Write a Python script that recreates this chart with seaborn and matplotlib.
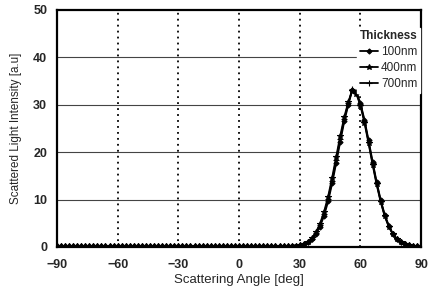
import pandas as pd
import matplotlib
matplotlib.use('Agg')
import matplotlib.pyplot as plt
import seaborn as sns

# scattering angle grid [deg], every 2 degrees
angles = list(range(-90, 92, 2))

# scattered light intensity [a.u]
# flat part from -90 to 26 deg
baseline = [
    0.2, 0.2, 0.2, 0.2, 0.2, 0.2, 0.2, 0.2, 0.2, 0.2,
    0.2, 0.2, 0.2, 0.2, 0.2, 0.2, 0.2, 0.2, 0.2, 0.2,
    0.2, 0.2, 0.2, 0.2, 0.2, 0.2, 0.2, 0.2, 0.2, 0.2,
    0.2, 0.2, 0.2, 0.2, 0.2, 0.2, 0.2, 0.2, 0.2, 0.2,
    0.2, 0.2, 0.2, 0.2, 0.2, 0.2, 0.2, 0.2, 0.2, 0.2,
    0.2, 0.2, 0.2, 0.2, 0.2, 0.2, 0.2, 0.2, 0.25,
]
# peak part from 28 to 90 deg
peak_100nm = [
    0.3, 0.35, 0.55, 0.95, 1.6, 2.7, 4.3, 6.6, 9.6, 13.4,
    17.7, 22.2, 26.5, 30.0, 33.2, 32.6, 30.3, 26.8, 22.5, 18.0,
    13.7, 9.9, 6.8, 4.5, 2.8, 1.7, 1.0, 0.6, 0.35, 0.25,
    0.2, 0.2,
]
peak_400nm = [
    0.3, 0.4, 0.65, 1.1, 1.9, 3.1, 4.9, 7.4, 10.6, 14.6,
    19.0, 23.4, 27.4, 30.6, 33.0, 32.3, 29.8, 26.2, 21.9, 17.4,
    13.2, 9.5, 6.5, 4.3, 2.7, 1.6, 0.95, 0.55, 0.35, 0.25,
    0.2, 0.2,
]
peak_700nm = [
    0.3, 0.38, 0.6, 1.0, 1.75, 2.9, 4.6, 7.0, 10.1, 14.0,
    18.4, 22.8, 27.0, 30.3, 33.4, 32.5, 30.1, 26.5, 22.2, 17.7,
    13.4, 9.7, 6.6, 4.4, 2.75, 1.65, 1.0, 0.58, 0.35, 0.25,
    0.2, 0.2,
]

thickness_labels = ['100nm', '400nm', '700nm']
series = [baseline + peak_100nm, baseline + peak_400nm, baseline + peak_700nm]
markers = {'100nm': 'D', '400nm': '*', '700nm': '+'}
msizes = {'100nm': 2.6, '400nm': 3.8, '700nm': 4.0}

df = pd.concat(
    [pd.DataFrame({'angle': angles, 'intensity': vals, 'Thickness': lab})
     for lab, vals in zip(thickness_labels, series)],
    ignore_index=True,
)

sns.set_style('white')
plt.rcParams['font.family'] = ['Liberation Sans', 'DejaVu Sans']

fig = plt.figure(figsize=(4.28, 2.93), dpi=100)
ax = fig.add_axes([0.133, 0.157, 0.851, 0.809])

for lab in thickness_labels:
    sub = df[df['Thickness'] == lab]
    sns.lineplot(data=sub, x='angle', y='intensity', ax=ax, color='black',
                 linewidth=1.3, marker=markers[lab], markersize=msizes[lab],
                 markeredgewidth=0.8, markeredgecolor='black',
                 markerfacecolor='black', label=lab)

# grid: solid horizontal, dotted vertical
for yv in [10, 20, 30, 40]:
    ax.axhline(yv, color='#444444', linewidth=0.8, zorder=0)
for xv in [-60, -30, 0, 30, 60]:
    ax.axvline(xv, color='black', linewidth=1.3, linestyle=(0, (1, 2.3)), zorder=0)

ax.set_xlim(-90, 90)
ax.set_ylim(0, 50)
ax.set_xticks([-90, -60, -30, 0, 30, 60, 90])
ax.set_yticks([0, 10, 20, 30, 40, 50])
ax.tick_params(length=0, labelsize=9)
ax.tick_params(axis='x', pad=9)
ax.tick_params(axis='y', pad=7)
for t in ax.get_xticklabels() + ax.get_yticklabels():
    t.set_fontweight('bold')
for s in ax.spines.values():
    s.set_color('black')
    s.set_linewidth(1.6)

ax.set_xlabel('Scattering Angle [deg]', fontsize=9.5, labelpad=2)
ax.set_ylabel('Scattered Light Intensity [a.u]', fontsize=8.4, labelpad=8)

leg = ax.legend(title='Thickness', loc='upper right', bbox_to_anchor=(1.0, 0.93),
                fontsize=8.5, title_fontsize=8.5, frameon=True, framealpha=1,
                edgecolor='white', fancybox=False, handlelength=1.5,
                handletextpad=0.3, labelspacing=0.35, borderpad=0.2,
                borderaxespad=0.1)
leg.get_title().set_fontweight('bold')

fig.savefig('out.png', dpi=100)
